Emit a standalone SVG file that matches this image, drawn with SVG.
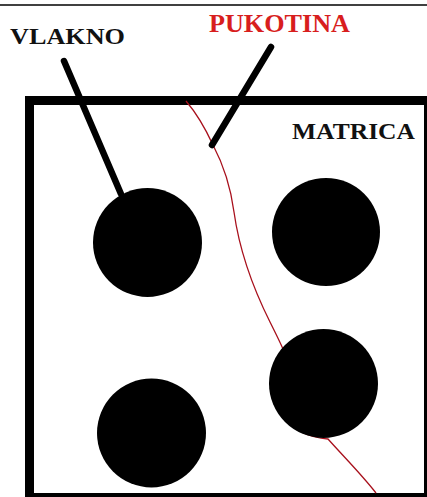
<svg xmlns="http://www.w3.org/2000/svg" width="427" height="497" viewBox="0 0 427 497">
<style>
.lbl{font-family:"Liberation Serif","Times New Roman",serif;font-weight:bold;}
.ptr{stroke:#000;stroke-width:6.5;stroke-linecap:round;fill:none;}
.fiber{fill:#000;}
</style>
<rect width="427" height="497" fill="#fff"/>
<line x1="0" y1="5" x2="427" y2="5" stroke="#000" stroke-width="1.5"/>
<g id="matrix">
<rect x="29.5" y="100.5" width="399" height="397" fill="none" stroke="#000" stroke-width="9"/>
</g>
<g id="crack">
<path d="M186,101 C198,115 207,132 213,145 C222,162 230,182 234,212 C240,255 254,290 270,322 C276,334 280,342 283,349 C272,362 268,395 282,415 C292,430 310,438 328,439 C345,458 362,475 376,493" fill="none" stroke="#a8101c" stroke-width="1.3"/>
</g>
<g id="fiber1"><circle class="fiber" cx="147.5" cy="242.5" r="54.5"/></g>
<g id="fiber2"><circle class="fiber" cx="326" cy="232" r="54"/></g>
<g id="fiber3"><circle class="fiber" cx="323.5" cy="383.5" r="54.5"/></g>
<g id="fiber4"><circle class="fiber" cx="151.5" cy="433" r="54.5"/></g>
<g id="connectors">
<line class="ptr" x1="64" y1="61" x2="121" y2="194"/>
<line class="ptr" x1="271" y1="47" x2="212" y2="145"/>
</g>
<g id="label-vlakno"><text class="lbl" x="10" y="43.5" font-size="24" textLength="115" lengthAdjust="spacingAndGlyphs" fill="#111">VLAKNO</text></g>
<g id="label-pukotina"><text class="lbl" x="209" y="32" font-size="25" textLength="141" lengthAdjust="spacingAndGlyphs" fill="#d81e1e">PUKOTINA</text></g>
<g id="label-matrica"><text class="lbl" x="292" y="139" font-size="23" textLength="123" lengthAdjust="spacingAndGlyphs" fill="#111">MATRICA</text></g>
</svg>
